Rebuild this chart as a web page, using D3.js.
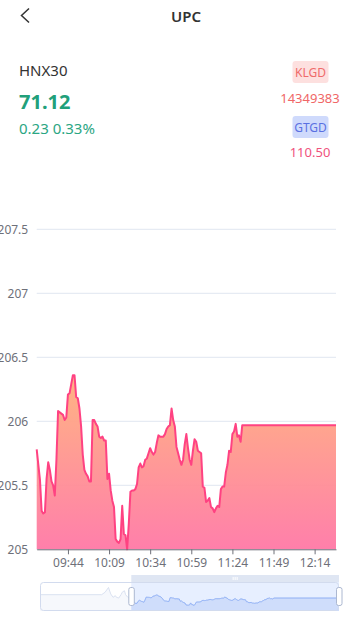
<!DOCTYPE html>
<html>
<head>
<meta charset="utf-8">
<script src="https://cdn.jsdelivr.net/npm/d3@7"></script>
<style>
body { margin: 0; background: #fff; font-family: "Noto Sans", sans-serif; }
svg { display: block; }
</style>
</head>
<body>
<svg width="364" height="618"></svg>
<script>
var title = "UPC";
var indexName = "HNX30";
var lastPrice = "71.12";
var changeText = "0.23 0.33%";
var klgdLabel = "KLGD";
var klgdValue = "14349383";
var gtgdLabel = "GTGD";
var gtgdValue = "110.50";

// earlier part of the session, only visible in the zoom slider
var preTimes = ["08:05","08:59","09:02","09:05","09:07","09:09","09:11","09:12","09:14","09:16","09:17","09:19","09:20","09:22","09:23"];
var preValues = [206.40,206.40,206.71,207.33,206.49,206.06,206.27,206.06,205.97,206.40,206.71,206.91,206.40,206.06,205.97];

var times = [
  "09:25","09:26","09:27","09:28","09:29","09:30","09:31","09:32","09:33","09:34",
  "09:35","09:36","09:37","09:38","09:39","09:40","09:41","09:42","09:43","09:44",
  "09:45","09:46","09:47","09:48","09:49","09:50","09:51","09:52","09:53","09:54",
  "09:55","09:56","09:57","09:58","09:59","10:00","10:01","10:02","10:03","10:04",
  "10:05","10:06","10:07","10:08","10:09","10:10","10:11","10:12","10:13","10:14",
  "10:15","10:16","10:17","10:18","10:19","10:20","10:21","10:22","10:23","10:24",
  "10:25","10:26","10:27","10:28","10:29","10:30","10:31","10:32","10:33","10:34",
  "10:35","10:36","10:37","10:38","10:39","10:40","10:41","10:42","10:43","10:44",
  "10:45","10:46","10:47","10:48","10:49","10:50","10:51","10:52","10:53","10:54",
  "10:55","10:56","10:57","10:58","10:59","11:00","11:01","11:02","11:03","11:04",
  "11:05","11:06","11:07","11:08","11:09","11:10","11:11","11:12","11:13","11:14",
  "11:15","11:16","11:17","11:18","11:19","11:20","11:21","11:22","11:23","11:24",
  "11:25","11:26","11:27","11:28","11:29","11:30","12:27"
];
var values = [
  205.78,205.66,205.54,205.30,205.28,205.29,205.55,205.68,205.62,205.53,
  205.50,205.42,205.70,206.08,206.07,206.06,206.05,206.01,206.03,206.21,
  206.22,206.29,206.36,206.36,206.19,206.18,206.10,205.96,205.74,205.62,
  205.59,205.57,205.53,205.53,206.01,206.01,205.98,205.96,205.88,205.87,
  205.88,205.85,205.85,205.55,205.59,205.46,205.38,205.33,205.08,205.06,
  205.05,205.08,205.34,205.12,205.11,205.00,205.20,205.45,205.46,205.46,
  205.47,205.51,205.64,205.67,205.64,205.65,205.70,205.71,205.75,205.79,
  205.76,205.74,205.76,205.83,205.89,205.88,205.88,205.88,205.90,205.94,
  205.96,205.97,206.10,206.01,205.96,205.80,205.75,205.70,205.66,205.70,
  205.82,205.90,205.79,205.70,205.66,205.77,205.86,205.84,205.77,205.76,
  205.75,205.49,205.48,205.37,205.38,205.40,205.33,205.32,205.29,205.32,
  205.34,205.33,205.47,205.49,205.49,205.60,205.66,205.77,205.76,205.90,
  205.92,205.98,205.88,205.89,205.84,205.97,205.97
];
var xTickLabels = ["09:44","10:09","10:34","10:59","11:24","11:49","12:14"];
var yTicks = [205, 205.5, 206, 206.5, 207, 207.5];

var parseTime = d3.timeParse("%H:%M");
var svg = d3.select("svg");

// ---- header ----
svg.append("path")
    .attr("d", "M29,8.5 L21.5,15.5 L29,22.5")
    .attr("fill", "none")
    .attr("stroke", "#333")
    .attr("stroke-width", 1.5);
svg.append("text").text(title)
    .attr("x", 186).attr("y", 21.5)
    .attr("text-anchor", "middle")
    .attr("font-size", 15).attr("font-weight", 600)
    .attr("fill", "#333");

svg.append("text").text(indexName)
    .attr("x", 19).attr("y", 76)
    .attr("font-size", 15).attr("fill", "#333");
svg.append("text").text(lastPrice)
    .attr("x", 19).attr("y", 109)
    .attr("font-size", 20).attr("font-weight", 700).attr("fill", "#21a07a");
svg.append("text").text(changeText)
    .attr("x", 19).attr("y", 134)
    .attr("font-size", 15).attr("fill", "#2ba683");

function badge(label, cy, bg, fg) {
    svg.append("rect")
        .attr("x", 292.5).attr("y", cy - 11)
        .attr("width", 36).attr("height", 22)
        .attr("rx", 3).attr("fill", bg);
    svg.append("text").text(label)
        .attr("x", 310.5).attr("y", cy + 4.5)
        .attr("text-anchor", "middle")
        .attr("font-size", 12).attr("fill", fg);
}
badge(klgdLabel, 72, "#fde0df", "#ef6b6b");
svg.append("text").text(klgdValue)
    .attr("x", 310).attr("y", 103)
    .attr("text-anchor", "middle")
    .attr("font-size", 13).attr("fill", "#f06767");
badge(gtgdLabel, 127, "#cfdafc", "#5a70e2");
svg.append("text").text(gtgdValue)
    .attr("x", 310).attr("y", 157)
    .attr("text-anchor", "middle")
    .attr("font-size", 13).attr("fill", "#f0527c");

// ---- main chart ----
var plotLeft = 36.7, plotRight = 336, plotTop = 229.3, plotBottom = 549.3;
var data = times.map(function (t, i) { return { t: parseTime(t), v: values[i] }; });

var x = d3.scaleTime()
    .domain([data[0].t, data[data.length - 1].t])
    .range([plotLeft, plotRight]);
var y = d3.scaleLinear()
    .domain([yTicks[0], yTicks[yTicks.length - 1]])
    .range([plotBottom, plotTop]);

var defs = svg.append("defs");
var grad = defs.append("linearGradient")
    .attr("id", "areaGrad")
    .attr("gradientUnits", "userSpaceOnUse")
    .attr("x1", 0).attr("x2", 0)
    .attr("y1", y(d3.max(values))).attr("y2", y(yTicks[0]));
grad.append("stop").attr("offset", 0).attr("stop-color", "#ffb07c");
grad.append("stop").attr("offset", 1).attr("stop-color", "#ff78a6");

svg.append("g")
    .selectAll("line")
    .data(yTicks)
    .enter().append("line")
    .attr("x1", plotLeft).attr("x2", plotRight)
    .attr("y1", function (d) { return y(d); })
    .attr("y2", function (d) { return y(d); })
    .attr("stroke", "#e0e6f1");

svg.append("g")
    .selectAll("text")
    .data(yTicks)
    .enter().append("text")
    .text(function (d) { return String(d); })
    .attr("x", plotLeft - 8.5)
    .attr("y", function (d) { return y(d); })
    .attr("dy", "0.35em")
    .attr("text-anchor", "end")
    .attr("font-size", 12)
    .attr("fill", "#6e7079");

var area = d3.area()
    .x(function (d) { return x(d.t); })
    .y0(y(yTicks[0]))
    .y1(function (d) { return y(d.v); });
var line = d3.line()
    .x(function (d) { return x(d.t); })
    .y(function (d) { return y(d.v); });

svg.append("path").datum(data)
    .attr("d", area)
    .attr("fill", "url(#areaGrad)")
    .attr("fill-opacity", 0.95);
svg.append("path").datum(data)
    .attr("d", line)
    .attr("fill", "none")
    .attr("stroke", "#ff4282")
    .attr("stroke-width", 2)
    .attr("stroke-linejoin", "round");

var xaxis = svg.append("g")
    .attr("transform", "translate(0," + plotBottom + ")")
    .call(d3.axisBottom(x)
        .tickValues(xTickLabels.map(parseTime))
        .tickFormat(d3.timeFormat("%H:%M"))
        .tickSize(5)
        .tickSizeOuter(0));
xaxis.select(".domain").attr("stroke", "#6e7079");
xaxis.selectAll(".tick line").attr("stroke", "#6e7079");
xaxis.selectAll(".tick text")
    .attr("fill", "#6e7079")
    .attr("font-size", 12)
    .attr("font-family", "Noto Sans")
    .attr("y", 8)
    .attr("dy", "0.85em");

// ---- zoom slider ----
var allData = preTimes.map(function (t, i) { return { t: parseTime(t), v: preValues[i] }; }).concat(data);
var zl = 40, zr = 339, zt = 582, zb = 611;
var mx = d3.scaleTime()
    .domain([allData[0].t, allData[allData.length - 1].t])
    .range([zl, zr]);
var ext = d3.extent(allData, function (d) { return d.v; });
var off = (ext[1] - ext[0]) * 0.3;
var my = d3.scaleLinear().domain([ext[0] - off, ext[1] + off]).range([zb, zt]);

var mArea = d3.area()
    .x(function (d) { return mx(d.t); })
    .y0(zb)
    .y1(function (d) { return my(d.v); });
var mLine = d3.line()
    .x(function (d) { return mx(d.t); })
    .y(function (d) { return my(d.v); });

var selL = mx(data[0].t), selR = mx(data[data.length - 1].t);

svg.append("path").datum(allData)
    .attr("d", mArea)
    .attr("fill", "#d2dbee").attr("fill-opacity", 0.2);
svg.append("path").datum(allData)
    .attr("d", mLine)
    .attr("fill", "none").attr("stroke", "#d2dbee").attr("stroke-width", 0.8);

defs.append("clipPath").attr("id", "selClip")
    .append("rect")
    .attr("x", selL).attr("y", zt)
    .attr("width", selR - selL).attr("height", zb - zt);

var sel = svg.append("g").attr("clip-path", "url(#selClip)");
sel.append("path").datum(allData)
    .attr("d", mArea)
    .attr("fill", "#8fb0f7").attr("fill-opacity", 0.2);
sel.append("path").datum(allData)
    .attr("d", mLine)
    .attr("fill", "none").attr("stroke", "#8fb0f7").attr("stroke-width", 0.8);

svg.append("rect")
    .attr("x", selL).attr("y", zt)
    .attr("width", selR - selL).attr("height", zb - zt)
    .attr("fill", "rgba(135,175,255,0.2)");

svg.append("rect")
    .attr("x", zl + 0.5).attr("y", zt + 0.5)
    .attr("width", zr - zl - 1).attr("height", zb - zt - 1)
    .attr("rx", 3)
    .attr("fill", "none").attr("stroke", "#d2dbee");

svg.append("rect")
    .attr("x", selL).attr("y", zt - 7)
    .attr("width", selR - selL).attr("height", 7)
    .attr("fill", "#d2dbee").attr("fill-opacity", 0.7);
var mid = (selL + selR) / 2;
[-2, 0, 2].forEach(function (dx) {
    svg.append("line")
        .attr("x1", mid + dx).attr("x2", mid + dx)
        .attr("y1", zt - 5).attr("y2", zt - 2)
        .attr("stroke", "#fff").attr("stroke-width", 1);
});

[selL, selR].forEach(function (hx) {
    svg.append("rect")
        .attr("x", hx - 2.5).attr("y", 587.5)
        .attr("width", 5.5).attr("height", 18)
        .attr("rx", 2)
        .attr("fill", "#fff").attr("stroke", "#acb8d1");
});
</script>
</body>
</html>
